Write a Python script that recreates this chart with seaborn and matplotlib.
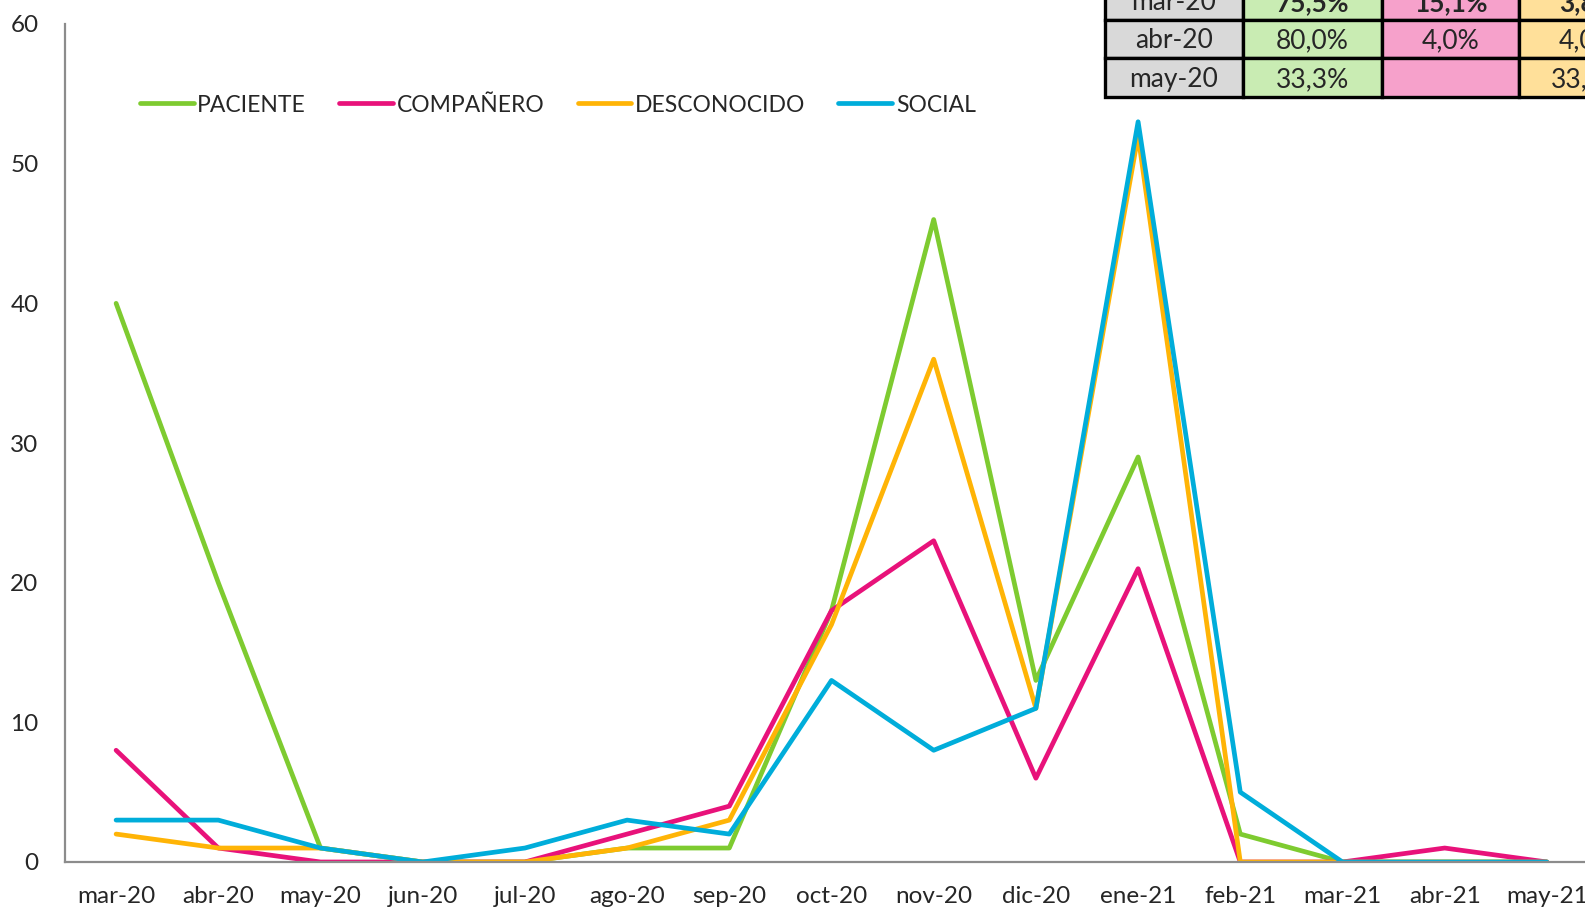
import numpy as np
import pandas as pd
import matplotlib
matplotlib.use("Agg")
import matplotlib.pyplot as plt
from matplotlib.patches import Rectangle
import seaborn as sns

# monthly counts by origin of contagion
months = ['mar-20', 'abr-20', 'may-20', 'jun-20', 'jul-20', 'ago-20', 'sep-20',
          'oct-20', 'nov-20', 'dic-20', 'ene-21', 'feb-21', 'mar-21', 'abr-21', 'may-21']
paciente = [40, 20, 1, 0, 0, 1, 1, 18, 46, 13, 29, 2, 0, 0, 0]
companero = [8, 1, 0, 0, 0, 2, 4, 18, 23, 6, 21, 0, 0, 1, 0]
desconocido = [2, 1, 1, 0, 0, 1, 3, 17, 36, 11, 52, 0, 0, 0, 0]
social = [3, 3, 1, 0, 1, 3, 2, 13, 8, 11, 53, 5, 0, 0, 0]
series_names = ['PACIENTE', 'COMPAÑERO', 'DESCONOCIDO', 'SOCIAL']
yticks = [0, 10, 20, 30, 40, 50, 60]

colors = ['#7ECB30', '#E8127A', '#FFB406', '#00ADDA']
cell_colors = ['#D9D9D9', '#C9ECB3', '#F6A1CB', '#FFE09A']

df = pd.DataFrame({'mes': months, 'PACIENTE': paciente, 'COMPAÑERO': companero,
                   'DESCONOCIDO': desconocido, 'SOCIAL': social})
long = df.melt(id_vars='mes', var_name='tipo', value_name='casos')

sns.set_style('white')
plt.rcParams['font.family'] = ['Lato', 'DejaVu Sans']

W, H = 1585, 910
fig = plt.figure(figsize=(W / 100, H / 100), dpi=100)
ax = fig.add_axes([65 / W, 1 - 862 / H, (1598 - 65) / W, (862 - 24) / H])

sns.lineplot(data=long, x='mes', y='casos', hue='tipo', hue_order=series_names,
             palette=colors, linewidth=3.4, sort=False, ax=ax, legend=True)

ax.set_xlim(-0.5, len(months) - 0.5)
ax.set_ylim(0, 60)
ax.set_yticks(yticks)
ax.set_xlabel('')
ax.set_ylabel('')
ax.tick_params(axis='x', length=0, pad=17, labelsize=17.5)
ax.tick_params(axis='y', length=0, pad=19, labelsize=17.5)
for s in ['top', 'right']:
    ax.spines[s].set_visible(False)
for s in ['left', 'bottom']:
    ax.spines[s].set_color('#8C8C8C')
    ax.spines[s].set_linewidth(1.6)

handles, labels = ax.get_legend_handles_labels()
ax.get_legend().remove()
fig.legend(handles, labels, loc='center left', bbox_to_anchor=(140 / W, 1 - 105 / H),
           ncol=4, frameon=False, fontsize=16.5, handlelength=2.35, handletextpad=0.15,
           columnspacing=1.45, borderpad=0, borderaxespad=0)

# share table in the top right corner (cut by the figure edge)
col_x = [1105, 1243, 1382, 1519, 1657]
row_y = [-18, 20, 58, 97]
tot = [p + c + d + s for p, c, d, s in zip(paciente, companero, desconocido, social)]
for r in range(3):
    vals = [paciente[r], companero[r], desconocido[r]]
    texts = [months[r]] + [('%.1f%%' % (100 * v / tot[r])).replace('.', ',') if v else '' for v in vals]
    for c in range(4):
        x0, x1 = col_x[c], col_x[c + 1]
        y0, y1 = row_y[r], row_y[r + 1]
        fig.patches.append(Rectangle((x0 / W, 1 - y1 / H), (x1 - x0) / W, (y1 - y0) / H,
                                     transform=fig.transFigure, facecolor=cell_colors[c],
                                     edgecolor='black', linewidth=2.4, zorder=5))
        fig.text((x0 + x1) / 2 / W, 1 - (y0 + y1 + 4) / 2 / H, texts[c], ha='center', va='center',
                 fontsize=19, fontweight='bold' if (r == 0 and c > 0) else 'normal', zorder=6)

fig.savefig('out.png', dpi=100)
